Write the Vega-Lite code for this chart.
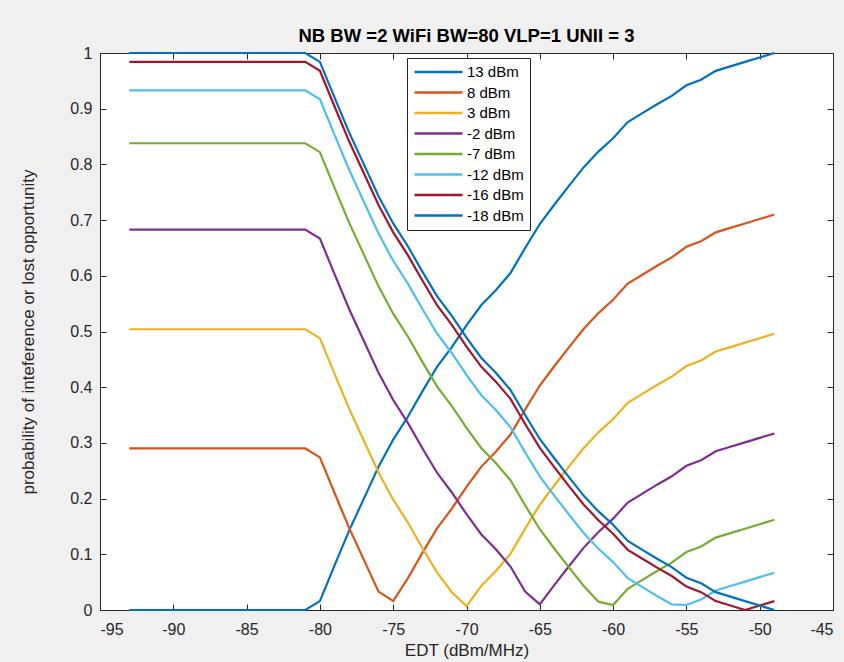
{
  "$schema": "https://vega.github.io/schema/vega-lite/v6.json",
  "width": 733,
  "height": 557,
  "autosize": {"type": "none"},
  "padding": {"left": 100, "top": 53, "right": 11, "bottom": 52},
  "background": "#f0f0f0",
  "config": {
    "view": {"stroke": "#262626", "strokeWidth": 1, "fill": "white"},
    "font": "Liberation Sans"
  },
  "title": {"text": "NB BW =2 WiFi BW=80 VLP=1 UNII = 3", "fontSize": 18.5, "fontWeight": "bold", "color": "#000000", "offset": 0, "anchor": "middle", "font": "Liberation Sans"},
  "data": {"values": [
    {"x":-93,"s":"13 dBm","p":0},{"x":-81,"s":"13 dBm","p":0},{"x":-80,"s":"13 dBm","p":0.016},{"x":-79,"s":"13 dBm","p":0.080},{"x":-78,"s":"13 dBm","p":0.143},{"x":-77,"s":"13 dBm","p":0.200},{"x":-76,"s":"13 dBm","p":0.257},{"x":-75,"s":"13 dBm","p":0.306},{"x":-74,"s":"13 dBm","p":0.347},{"x":-73,"s":"13 dBm","p":0.393},{"x":-72,"s":"13 dBm","p":0.437},{"x":-71,"s":"13 dBm","p":0.472},{"x":-70,"s":"13 dBm","p":0.511},{"x":-69,"s":"13 dBm","p":0.547},{"x":-68,"s":"13 dBm","p":0.574},{"x":-67,"s":"13 dBm","p":0.605},{"x":-66,"s":"13 dBm","p":0.650},{"x":-65,"s":"13 dBm","p":0.693},{"x":-64,"s":"13 dBm","p":0.728},{"x":-63,"s":"13 dBm","p":0.762},{"x":-62,"s":"13 dBm","p":0.795},{"x":-61,"s":"13 dBm","p":0.823},{"x":-60,"s":"13 dBm","p":0.847},{"x":-59,"s":"13 dBm","p":0.876},{"x":-58,"s":"13 dBm","p":0.892},{"x":-57,"s":"13 dBm","p":0.908},{"x":-56,"s":"13 dBm","p":0.923},{"x":-55,"s":"13 dBm","p":0.942},{"x":-54,"s":"13 dBm","p":0.952},{"x":-53,"s":"13 dBm","p":0.968},{"x":-52,"s":"13 dBm","p":0.976},{"x":-51,"s":"13 dBm","p":0.984},{"x":-50,"s":"13 dBm","p":0.992},{"x":-49,"s":"13 dBm","p":1.0},

    {"x":-93,"s":"8 dBm","p":0.29},{"x":-81,"s":"8 dBm","p":0.29},{"x":-80,"s":"8 dBm","p":0.274},{"x":-79,"s":"8 dBm","p":0.210},{"x":-78,"s":"8 dBm","p":0.147},{"x":-77,"s":"8 dBm","p":0.090},{"x":-76,"s":"8 dBm","p":0.033},{"x":-75,"s":"8 dBm","p":0.016},{"x":-74,"s":"8 dBm","p":0.057},{"x":-73,"s":"8 dBm","p":0.103},{"x":-72,"s":"8 dBm","p":0.147},{"x":-71,"s":"8 dBm","p":0.182},{"x":-70,"s":"8 dBm","p":0.221},{"x":-69,"s":"8 dBm","p":0.257},{"x":-68,"s":"8 dBm","p":0.284},{"x":-67,"s":"8 dBm","p":0.315},{"x":-66,"s":"8 dBm","p":0.360},{"x":-65,"s":"8 dBm","p":0.403},{"x":-64,"s":"8 dBm","p":0.438},{"x":-63,"s":"8 dBm","p":0.472},{"x":-62,"s":"8 dBm","p":0.505},{"x":-61,"s":"8 dBm","p":0.533},{"x":-60,"s":"8 dBm","p":0.557},{"x":-59,"s":"8 dBm","p":0.586},{"x":-58,"s":"8 dBm","p":0.602},{"x":-57,"s":"8 dBm","p":0.618},{"x":-56,"s":"8 dBm","p":0.633},{"x":-55,"s":"8 dBm","p":0.652},{"x":-54,"s":"8 dBm","p":0.662},{"x":-53,"s":"8 dBm","p":0.678},{"x":-52,"s":"8 dBm","p":0.686},{"x":-51,"s":"8 dBm","p":0.694},{"x":-50,"s":"8 dBm","p":0.702},{"x":-49,"s":"8 dBm","p":0.710},

    {"x":-93,"s":"3 dBm","p":0.504},{"x":-81,"s":"3 dBm","p":0.504},{"x":-80,"s":"3 dBm","p":0.488},{"x":-79,"s":"3 dBm","p":0.424},{"x":-78,"s":"3 dBm","p":0.361},{"x":-77,"s":"3 dBm","p":0.304},{"x":-76,"s":"3 dBm","p":0.247},{"x":-75,"s":"3 dBm","p":0.198},{"x":-74,"s":"3 dBm","p":0.157},{"x":-73,"s":"3 dBm","p":0.111},{"x":-72,"s":"3 dBm","p":0.067},{"x":-71,"s":"3 dBm","p":0.032},{"x":-70,"s":"3 dBm","p":0.007},{"x":-69,"s":"3 dBm","p":0.043},{"x":-68,"s":"3 dBm","p":0.070},{"x":-67,"s":"3 dBm","p":0.101},{"x":-66,"s":"3 dBm","p":0.146},{"x":-65,"s":"3 dBm","p":0.189},{"x":-64,"s":"3 dBm","p":0.224},{"x":-63,"s":"3 dBm","p":0.258},{"x":-62,"s":"3 dBm","p":0.291},{"x":-61,"s":"3 dBm","p":0.319},{"x":-60,"s":"3 dBm","p":0.343},{"x":-59,"s":"3 dBm","p":0.372},{"x":-58,"s":"3 dBm","p":0.388},{"x":-57,"s":"3 dBm","p":0.404},{"x":-56,"s":"3 dBm","p":0.419},{"x":-55,"s":"3 dBm","p":0.438},{"x":-54,"s":"3 dBm","p":0.448},{"x":-53,"s":"3 dBm","p":0.464},{"x":-52,"s":"3 dBm","p":0.472},{"x":-51,"s":"3 dBm","p":0.480},{"x":-50,"s":"3 dBm","p":0.488},{"x":-49,"s":"3 dBm","p":0.496},

    {"x":-93,"s":"-2 dBm","p":0.683},{"x":-81,"s":"-2 dBm","p":0.683},{"x":-80,"s":"-2 dBm","p":0.667},{"x":-79,"s":"-2 dBm","p":0.603},{"x":-78,"s":"-2 dBm","p":0.540},{"x":-77,"s":"-2 dBm","p":0.483},{"x":-76,"s":"-2 dBm","p":0.426},{"x":-75,"s":"-2 dBm","p":0.377},{"x":-74,"s":"-2 dBm","p":0.336},{"x":-73,"s":"-2 dBm","p":0.290},{"x":-72,"s":"-2 dBm","p":0.246},{"x":-71,"s":"-2 dBm","p":0.211},{"x":-70,"s":"-2 dBm","p":0.172},{"x":-69,"s":"-2 dBm","p":0.136},{"x":-68,"s":"-2 dBm","p":0.109},{"x":-67,"s":"-2 dBm","p":0.078},{"x":-66,"s":"-2 dBm","p":0.033},{"x":-65,"s":"-2 dBm","p":0.010},{"x":-64,"s":"-2 dBm","p":0.045},{"x":-63,"s":"-2 dBm","p":0.079},{"x":-62,"s":"-2 dBm","p":0.112},{"x":-61,"s":"-2 dBm","p":0.140},{"x":-60,"s":"-2 dBm","p":0.164},{"x":-59,"s":"-2 dBm","p":0.193},{"x":-58,"s":"-2 dBm","p":0.209},{"x":-57,"s":"-2 dBm","p":0.225},{"x":-56,"s":"-2 dBm","p":0.240},{"x":-55,"s":"-2 dBm","p":0.259},{"x":-54,"s":"-2 dBm","p":0.269},{"x":-53,"s":"-2 dBm","p":0.285},{"x":-52,"s":"-2 dBm","p":0.293},{"x":-51,"s":"-2 dBm","p":0.301},{"x":-50,"s":"-2 dBm","p":0.309},{"x":-49,"s":"-2 dBm","p":0.317},

    {"x":-93,"s":"-7 dBm","p":0.838},{"x":-81,"s":"-7 dBm","p":0.838},{"x":-80,"s":"-7 dBm","p":0.822},{"x":-79,"s":"-7 dBm","p":0.758},{"x":-78,"s":"-7 dBm","p":0.695},{"x":-77,"s":"-7 dBm","p":0.638},{"x":-76,"s":"-7 dBm","p":0.581},{"x":-75,"s":"-7 dBm","p":0.532},{"x":-74,"s":"-7 dBm","p":0.491},{"x":-73,"s":"-7 dBm","p":0.445},{"x":-72,"s":"-7 dBm","p":0.401},{"x":-71,"s":"-7 dBm","p":0.366},{"x":-70,"s":"-7 dBm","p":0.327},{"x":-69,"s":"-7 dBm","p":0.291},{"x":-68,"s":"-7 dBm","p":0.264},{"x":-67,"s":"-7 dBm","p":0.233},{"x":-66,"s":"-7 dBm","p":0.188},{"x":-65,"s":"-7 dBm","p":0.145},{"x":-64,"s":"-7 dBm","p":0.110},{"x":-63,"s":"-7 dBm","p":0.076},{"x":-62,"s":"-7 dBm","p":0.043},{"x":-61,"s":"-7 dBm","p":0.015},{"x":-60,"s":"-7 dBm","p":0.009},{"x":-59,"s":"-7 dBm","p":0.038},{"x":-58,"s":"-7 dBm","p":0.054},{"x":-57,"s":"-7 dBm","p":0.070},{"x":-56,"s":"-7 dBm","p":0.085},{"x":-55,"s":"-7 dBm","p":0.104},{"x":-54,"s":"-7 dBm","p":0.114},{"x":-53,"s":"-7 dBm","p":0.130},{"x":-52,"s":"-7 dBm","p":0.138},{"x":-51,"s":"-7 dBm","p":0.146},{"x":-50,"s":"-7 dBm","p":0.154},{"x":-49,"s":"-7 dBm","p":0.162},

    {"x":-93,"s":"-12 dBm","p":0.933},{"x":-81,"s":"-12 dBm","p":0.933},{"x":-80,"s":"-12 dBm","p":0.917},{"x":-79,"s":"-12 dBm","p":0.853},{"x":-78,"s":"-12 dBm","p":0.790},{"x":-77,"s":"-12 dBm","p":0.733},{"x":-76,"s":"-12 dBm","p":0.676},{"x":-75,"s":"-12 dBm","p":0.627},{"x":-74,"s":"-12 dBm","p":0.586},{"x":-73,"s":"-12 dBm","p":0.540},{"x":-72,"s":"-12 dBm","p":0.496},{"x":-71,"s":"-12 dBm","p":0.461},{"x":-70,"s":"-12 dBm","p":0.422},{"x":-69,"s":"-12 dBm","p":0.386},{"x":-68,"s":"-12 dBm","p":0.359},{"x":-67,"s":"-12 dBm","p":0.328},{"x":-66,"s":"-12 dBm","p":0.283},{"x":-65,"s":"-12 dBm","p":0.240},{"x":-64,"s":"-12 dBm","p":0.205},{"x":-63,"s":"-12 dBm","p":0.171},{"x":-62,"s":"-12 dBm","p":0.138},{"x":-61,"s":"-12 dBm","p":0.110},{"x":-60,"s":"-12 dBm","p":0.086},{"x":-59,"s":"-12 dBm","p":0.057},{"x":-58,"s":"-12 dBm","p":0.041},{"x":-57,"s":"-12 dBm","p":0.025},{"x":-56,"s":"-12 dBm","p":0.010},{"x":-55,"s":"-12 dBm","p":0.009},{"x":-54,"s":"-12 dBm","p":0.019},{"x":-53,"s":"-12 dBm","p":0.035},{"x":-52,"s":"-12 dBm","p":0.043},{"x":-51,"s":"-12 dBm","p":0.051},{"x":-50,"s":"-12 dBm","p":0.059},{"x":-49,"s":"-12 dBm","p":0.067},

    {"x":-93,"s":"-16 dBm","p":0.984},{"x":-81,"s":"-16 dBm","p":0.984},{"x":-80,"s":"-16 dBm","p":0.968},{"x":-79,"s":"-16 dBm","p":0.904},{"x":-78,"s":"-16 dBm","p":0.841},{"x":-77,"s":"-16 dBm","p":0.784},{"x":-76,"s":"-16 dBm","p":0.727},{"x":-75,"s":"-16 dBm","p":0.678},{"x":-74,"s":"-16 dBm","p":0.637},{"x":-73,"s":"-16 dBm","p":0.591},{"x":-72,"s":"-16 dBm","p":0.547},{"x":-71,"s":"-16 dBm","p":0.512},{"x":-70,"s":"-16 dBm","p":0.473},{"x":-69,"s":"-16 dBm","p":0.437},{"x":-68,"s":"-16 dBm","p":0.410},{"x":-67,"s":"-16 dBm","p":0.379},{"x":-66,"s":"-16 dBm","p":0.334},{"x":-65,"s":"-16 dBm","p":0.291},{"x":-64,"s":"-16 dBm","p":0.256},{"x":-63,"s":"-16 dBm","p":0.222},{"x":-62,"s":"-16 dBm","p":0.189},{"x":-61,"s":"-16 dBm","p":0.161},{"x":-60,"s":"-16 dBm","p":0.137},{"x":-59,"s":"-16 dBm","p":0.108},{"x":-58,"s":"-16 dBm","p":0.092},{"x":-57,"s":"-16 dBm","p":0.076},{"x":-56,"s":"-16 dBm","p":0.061},{"x":-55,"s":"-16 dBm","p":0.042},{"x":-54,"s":"-16 dBm","p":0.032},{"x":-53,"s":"-16 dBm","p":0.016},{"x":-52,"s":"-16 dBm","p":0.008},{"x":-51,"s":"-16 dBm","p":0.000},{"x":-50,"s":"-16 dBm","p":0.008},{"x":-49,"s":"-16 dBm","p":0.016},

    {"x":-93,"s":"-18 dBm","p":1.0},{"x":-81,"s":"-18 dBm","p":1.0},{"x":-80,"s":"-18 dBm","p":0.984},{"x":-79,"s":"-18 dBm","p":0.920},{"x":-78,"s":"-18 dBm","p":0.857},{"x":-77,"s":"-18 dBm","p":0.800},{"x":-76,"s":"-18 dBm","p":0.743},{"x":-75,"s":"-18 dBm","p":0.694},{"x":-74,"s":"-18 dBm","p":0.653},{"x":-73,"s":"-18 dBm","p":0.607},{"x":-72,"s":"-18 dBm","p":0.563},{"x":-71,"s":"-18 dBm","p":0.528},{"x":-70,"s":"-18 dBm","p":0.489},{"x":-69,"s":"-18 dBm","p":0.453},{"x":-68,"s":"-18 dBm","p":0.426},{"x":-67,"s":"-18 dBm","p":0.395},{"x":-66,"s":"-18 dBm","p":0.350},{"x":-65,"s":"-18 dBm","p":0.307},{"x":-64,"s":"-18 dBm","p":0.272},{"x":-63,"s":"-18 dBm","p":0.238},{"x":-62,"s":"-18 dBm","p":0.205},{"x":-61,"s":"-18 dBm","p":0.177},{"x":-60,"s":"-18 dBm","p":0.153},{"x":-59,"s":"-18 dBm","p":0.124},{"x":-58,"s":"-18 dBm","p":0.108},{"x":-57,"s":"-18 dBm","p":0.092},{"x":-56,"s":"-18 dBm","p":0.077},{"x":-55,"s":"-18 dBm","p":0.058},{"x":-54,"s":"-18 dBm","p":0.048},{"x":-53,"s":"-18 dBm","p":0.032},{"x":-52,"s":"-18 dBm","p":0.024},{"x":-51,"s":"-18 dBm","p":0.016},{"x":-50,"s":"-18 dBm","p":0.008},{"x":-49,"s":"-18 dBm","p":0.0}
  ]},
  "layer": [
    {
      "mark": {"type": "line", "opacity": 0},
      "encoding": {
        "x": {"field": "x", "type": "quantitative", "scale": {"domain": [-95, -45], "nice": false, "zero": false},
          "axis": {"orient": "top", "values": [-95,-90,-85,-80,-75,-70,-65,-60,-55,-50,-45], "labels": false, "grid": false, "domain": false, "tickSize": -6, "tickColor": "#262626", "title": null}},
        "y": {"field": "p", "type": "quantitative", "scale": {"domain": [0, 1], "nice": false, "zero": false},
          "axis": {"orient": "right", "values": [0,0.1,0.2,0.3,0.4,0.5,0.6,0.7,0.8,0.9,1], "labels": false, "grid": false, "domain": false, "tickSize": -6, "tickColor": "#262626", "title": null}},
        "detail": {"field": "s", "type": "nominal"}
      }
    },
    {
      "mark": {"type": "line", "strokeWidth": 2.2},
      "encoding": {
        "x": {"field": "x", "type": "quantitative", "scale": {"domain": [-95, -45], "nice": false, "zero": false},
          "axis": {"orient": "bottom", "values": [-95,-90,-85,-80,-75,-70,-65,-60,-55,-50,-45], "labelExpr": "datum.value + ''", "labelFontSize": 16, "labelColor": "#262626", "labelFont": "Liberation Sans", "tickSize": -6, "tickColor": "#262626", "labelPadding": 17, "domainColor": "#262626", "gridColor": "#262626", "gridOpacity": 0.15, "title": "EDT (dBm/MHz)", "titleFontSize": 17, "titleFontWeight": "normal", "titleColor": "#262626", "titleFont": "Liberation Sans", "titlePadding": 5}},
        "y": {"field": "p", "type": "quantitative", "scale": {"domain": [0, 1], "nice": false, "zero": false},
          "axis": {"orient": "left", "values": [0,0.1,0.2,0.3,0.4,0.5,0.6,0.7,0.8,0.9,1], "labelExpr": "datum.value + ''", "labelFontSize": 16, "labelColor": "#262626", "labelFont": "Liberation Sans", "tickSize": -6, "tickColor": "#262626", "labelPadding": 14, "domainColor": "#262626", "gridColor": "#262626", "gridOpacity": 0.15, "title": "probability of inteference or lost opportunity", "titleFontSize": 17, "titleFontWeight": "normal", "titleColor": "#262626", "titleFont": "Liberation Sans", "titlePadding": 32}},
        "color": {"field": "s", "type": "nominal",
          "scale": {"domain": ["13 dBm","8 dBm","3 dBm","-2 dBm","-7 dBm","-12 dBm","-16 dBm","-18 dBm"],
                    "range": ["#0072BD","#D95319","#EDB120","#7E2F8E","#77AC30","#4DBEEE","#A2142F","#0072BD"]},
          "legend": {"orient": "none", "legendX": 307, "legendY": 5, "title": null, "strokeColor": "#262626", "fillColor": "white", "padding": 6, "symbolType": "stroke", "symbolSize": 2304, "symbolStrokeWidth": 2.5, "clipHeight": 16, "rowPadding": 4.5, "labelFontSize": 15, "labelColor": "#000000", "labelFont": "Liberation Sans", "labelOffset": 3, "cornerRadius": 0}}
      }
    }
  ],
  "resolve": {"axis": {"x": "independent", "y": "independent"}}
}
